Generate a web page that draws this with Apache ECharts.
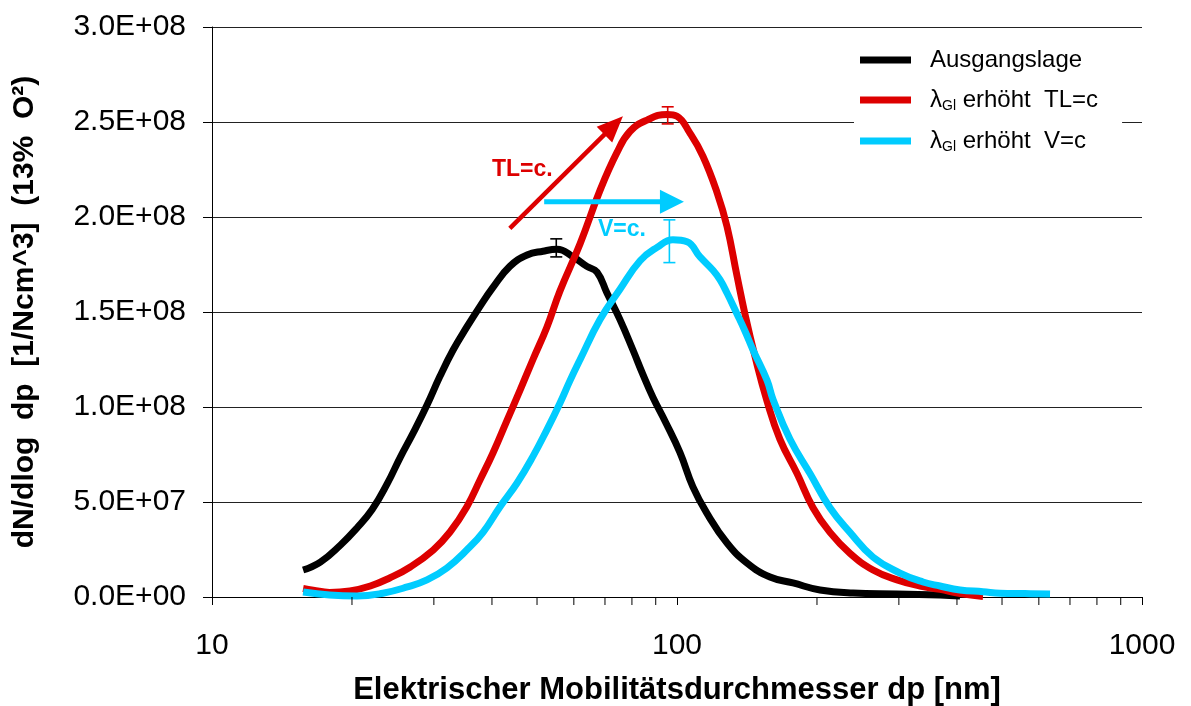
<!DOCTYPE html>
<html>
<head>
<meta charset="utf-8">
<script src="https://cdn.jsdelivr.net/npm/echarts@6/dist/echarts.min.js"></script>
<style>
html,body{margin:0;padding:0;background:#fff;}
#chart{width:1191px;height:706px;}
</style>
</head>
<body>
<div id="chart"></div>
<script>
// ---- data ----
const seriesNames = ['Ausgangslage', 'λGl erhöht  TL=c', 'λGl erhöht  V=c'];

const blackDp = [15.7,17.1,18.9,20.5,22.1,23.8,25.4,27.1,29.0,30.9,33.0,35.3,37.7,40.2,43.7,47.6,51.5,55.2,59.8,64.0,67.3,70.7,75.4,80.4,84.5,88.8,94.5,101.5,108.2,116.0,128.1,141.4,158.5,177.6,203.0,239.1,297.3,367.9,406.2];
const blackN  = [1.42e7,1.84e7,2.74e7,3.63e7,4.6e7,5.95e7,7.35e7,8.65e7,1.01e8,1.16e8,1.30e8,1.42e8,1.53e8,1.63e8,1.74e8,1.80e8,1.82e8,1.83e8,1.79e8,1.74e8,1.71e8,1.60e8,1.46e8,1.30e8,1.17e8,1.05e8,9.2e7,7.6e7,5.8e7,4.4e7,2.84e7,1.79e7,1.05e7,7.4e6,3.7e6,2.1e6,1.6e6,1.0e6,0.5e6];

const redDp = [15.7,16.5,17.9,19.8,21.9,24.1,26.7,29.9,32.5,35.3,37.7,40.2,43.1,46.0,49.0,52.5,56.0,61.9,68.3,74.3,79.2,86.2,95.2,100,106.7,113.7,121.9,128.1,134.6,140.0,147.0,156.2,166.5,181.2,196.1,213.3,235.5,264.0,297.3,333.2,367.9,406.2,455.1];
const redN  = [4.5e6,3.6e6,2.4e6,3.2e6,5.8e6,1.0e7,1.58e7,2.47e7,3.42e7,4.74e7,6.16e7,7.58e7,9.3e7,1.09e8,1.25e8,1.42e8,1.61e8,1.86e8,2.14e8,2.34e8,2.45e8,2.51e8,2.54e8,2.53e8,2.44e8,2.32e8,2.13e8,1.95e8,1.69e8,1.49e8,1.27e8,1.03e8,8.3e7,6.5e7,4.7e7,3.4e7,2.3e7,1.42e7,9.0e6,5.8e6,4.0e6,1.8e6,0.3e6];

const cyanDp = [15.7,17.9,20.5,23.3,26.3,29.0,32.0,35.3,38.3,41.6,45.3,49.0,52.5,56.0,58.9,61.9,68.3,75.4,83.3,90.6,98.0,105.1,112.1,119.5,123.7,128.1,134.6,140.0,145.7,156.2,160.9,175.0,193.2,213.3,235.5,264.0,301.7,338.1,367.9,406.2,455.1,495.0,560.0,634.2];
const cyanN  = [2.6e6,1.0e6,0.5e6,2.0e6,5.3e6,9.0e6,1.53e7,2.47e7,3.42e7,4.74e7,6.0e7,7.4e7,8.8e7,1.02e8,1.14e8,1.25e8,1.46e8,1.62e8,1.77e8,1.84e8,1.88e8,1.87e8,1.79e8,1.72e8,1.67e8,1.60e8,1.49e8,1.40e8,1.30e8,1.14e8,1.04e8,8.3e7,6.5e7,4.7e7,3.4e7,2.1e7,1.26e7,7.9e6,5.8e6,3.7e6,2.8e6,2.0e6,1.8e6,1.6e6];

// error bars (one per curve, same order as seriesNames)
const errDp   = [55.0, 95.5, 96.3];
const errLow  = [1.79e8, 2.49e8, 1.76e8];
const errHigh = [1.885e8, 2.58e8, 1.985e8];

// axis ticks
const xMin = 10, xMax = 1000;
const yMin = 0, yMax = 3e8, yStep = 5e7;
const xMinorTicks = [20,30,40,50,60,70,80,90,200,300,400,500,600,700,800,900];

// ---- styling ----
const colors = ['#000000', '#dd0000', '#00ccff'];
const FONT = '"Liberation Sans", Arial, sans-serif';

function zip(a, b) { return a.map((v, i) => [v, b[i]]); }
function fmtE(v) {
  if (v === 0) return '0.0E+00';
  const e = Math.floor(Math.log10(v) + 1e-9);
  const m = v / Math.pow(10, e);
  return m.toFixed(1) + 'E+' + String(e).padStart(2, '0');
}

const chart = echarts.init(document.getElementById('chart'), null, {renderer: 'canvas'});

const lineData = [zip(blackDp, blackN), zip(redDp, redN), zip(cyanDp, cyanN)];

const option = {
  backgroundColor: '#ffffff',
  animation: false,
  grid: {left: 212, right: 49, top: 27, bottom: 109, containLabel: false, outerBoundsMode: 'none'},
  xAxis: {
    type: 'log', logBase: 10, min: xMin, max: xMax,
    name: 'Elektrischer Mobilitätsdurchmesser dp [nm]',
    nameLocation: 'middle', nameGap: 78,
    nameTextStyle: {fontFamily: FONT, fontSize: 31, fontWeight: 'bold', color: '#000'},
    axisLine: {show: true, lineStyle: {color: '#000', width: 1}},
    axisTick: {show: true, length: 8, lineStyle: {color: '#000', width: 1}},
    axisLabel: {fontFamily: FONT, fontSize: 30, color: '#000', margin: 34,
                formatter: function (v) { return String(Math.round(v)); }},
    splitLine: {show: false},
    minorTick: {show: false}
  },
  yAxis: {
    type: 'value', min: yMin, max: yMax, interval: yStep,
    name: 'dN/dlog  dp  [1/Ncm^3]  (13%  O²)',
    nameLocation: 'middle', nameGap: 172,
    nameTextStyle: {fontFamily: FONT, fontSize: 30, fontWeight: 'bold', color: '#000'},
    axisLine: {show: true, lineStyle: {color: '#000', width: 1}},
    axisTick: {show: true, length: 9, lineStyle: {color: '#000', width: 1}},
    axisLabel: {fontFamily: FONT, fontSize: 30, color: '#000', margin: 26, formatter: fmtE},
    splitLine: {show: true, lineStyle: {color: '#222', width: 1}}
  },
  legend: {
    data: seriesNames,
    orient: 'vertical',
    left: 854, top: 34,
    padding: [14, 24, 12, 6],
    backgroundColor: '#ffffff',
    icon: 'rect', itemWidth: 51, itemHeight: 7, itemGap: 16,
    selectedMode: false,
    formatter: function (name) {
      if (name.indexOf('λGl') === 0) return '{l|λ}{s|Gl}{t|' + name.slice(3) + '}';
      return '{t|' + name + '}';
    },
    textStyle: {
      fontFamily: FONT, fontSize: 24, color: '#000', padding: [0, 0, 0, 14],
      rich: {
        t: {fontFamily: FONT, fontSize: 24, color: '#000', lineHeight: 26},
        l: {fontFamily: FONT, fontSize: 24, color: '#000', lineHeight: 26},
        s: {fontFamily: FONT, fontSize: 14, color: '#000', lineHeight: 2, verticalAlign: 'bottom'}
      }
    }
  },
  series: [
    ...lineData.map((d, i) => ({
      name: seriesNames[i], type: 'line', data: d,
      showSymbol: false, symbol: 'none', smooth: 0.45,
      lineStyle: {color: colors[i], width: 7},
      itemStyle: {color: colors[i]},
      z: 3 + i
    })),
    {
      name: 'errorbars', type: 'custom', z: 10, silent: true,
      data: errDp.map((d, i) => [d, errLow[i], errHigh[i], i]),
      renderItem: function (params, api) {
        const i = api.value(3);
        const lo = api.coord([api.value(0), api.value(1)]);
        const hi = api.coord([api.value(0), api.value(2)]);
        const hw = 6;
        const st = {stroke: colors[i], lineWidth: 1.6};
        return {type: 'group', children: [
          {type: 'line', shape: {x1: lo[0], y1: lo[1], x2: hi[0], y2: hi[1]}, style: st},
          {type: 'line', shape: {x1: lo[0]-hw, y1: lo[1], x2: lo[0]+hw, y2: lo[1]}, style: st},
          {type: 'line', shape: {x1: hi[0]-hw, y1: hi[1], x2: hi[0]+hw, y2: hi[1]}, style: st}
        ]};
      }
    },
    {
      name: 'minorticks', type: 'custom', z: 10, silent: true, clip: false,
      data: xMinorTicks.map(v => [v, 0]),
      renderItem: function (params, api) {
        const p = api.coord([api.value(0), 0]);
        return {type: 'line', shape: {x1: p[0], y1: p[1], x2: p[0], y2: p[1] + 8},
                style: {stroke: '#000', lineWidth: 1}};
      }
    }
  ]
};
chart.setOption(option);

// ---- annotations (arrows + labels) positioned in data space ----
function px(d, v) { return chart.convertToPixel({xAxisIndex: 0, yAxisIndex: 0}, [d, v]); }
function arrow(from, to, color, lw, headL, headW) {
  const dx = to[0] - from[0], dy = to[1] - from[1];
  const len = Math.sqrt(dx * dx + dy * dy);
  const ux = dx / len, uy = dy / len, nx = -uy, ny = ux;
  const bx = to[0] - ux * headL, by = to[1] - uy * headL;
  return [
    {type: 'line', z: 20, shape: {x1: from[0], y1: from[1], x2: bx + ux * 2, y2: by + uy * 2},
     style: {stroke: color, lineWidth: lw}},
    {type: 'polygon', z: 20, shape: {points: [[to[0], to[1]], [bx + nx * headW, by + ny * headW], [bx - nx * headW, by - ny * headW]]},
     style: {fill: color}}
  ];
}
const redFrom = px(43.7, 1.94e8), redTo = px(76.5, 2.53e8);
const cyanFrom = px(51.8, 2.08e8), cyanTo = px(103.5, 2.08e8);
const tlPos = px(40.0, 2.25e8), vPos = px(67.6, 1.935e8);
chart.setOption({
  graphic: [
    ...arrow(redFrom, redTo, colors[1], 4.5, 26, 11),
    ...arrow(cyanFrom, cyanTo, colors[2], 5, 24, 12),
    {type: 'text', z: 20, x: tlPos[0], y: tlPos[1],
     style: {text: 'TL=c.', fill: colors[1], font: 'bold 23px ' + FONT, textVerticalAlign: 'middle', verticalAlign: 'middle'}},
    {type: 'text', z: 20, x: vPos[0], y: vPos[1],
     style: {text: 'V=c.', fill: colors[2], font: 'bold 23px ' + FONT, textVerticalAlign: 'middle', verticalAlign: 'middle'}}
  ]
});
</script>
</body>
</html>
